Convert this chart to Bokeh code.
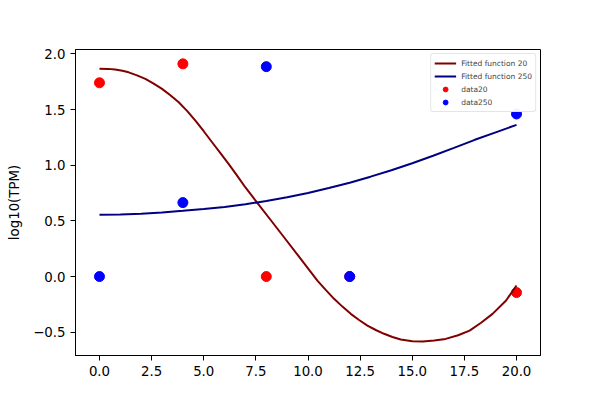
from bokeh.plotting import figure
from bokeh.models import FixedTicker, Legend, LegendItem
from bokeh.embed import file_html
from bokeh.resources import INLINE

# measured points
t_data = [0, 4, 8, 12, 20]
data20 = [1.74, 1.91, 0.0, 0.0, -0.144]
data250 = [0.0, 0.664, 1.885, 0.0, 1.46]

# fitted curves
t_fit20 = [0, 0.4, 0.75, 1.1, 1.4, 1.8, 2.2, 2.6, 3.0, 3.4, 3.8, 4.2, 4.6, 5.0, 5.4,
           5.8, 6.2, 6.6, 7.0, 7.55, 8.2, 8.85, 9.65, 10.45, 10.85, 11.25, 11.65,
           12.05, 12.45, 12.85, 13.25, 13.65, 14.05, 14.45, 15.0, 15.5, 16.05, 16.6,
           17.2, 17.75, 18.3, 18.85, 19.5, 20.0]
fit20 = [1.866, 1.865, 1.86, 1.848, 1.834, 1.807, 1.775, 1.733, 1.685, 1.628, 1.565,
         1.488, 1.40, 1.305, 1.206, 1.108, 1.01, 0.907, 0.80, 0.667, 0.51, 0.353,
         0.159, -0.036, -0.12, -0.20, -0.27, -0.335, -0.39, -0.44, -0.48, -0.514,
         -0.543, -0.566, -0.58, -0.583, -0.575, -0.56, -0.527, -0.485, -0.415,
         -0.335, -0.215, -0.08]
t_fit250 = [0, 1, 2, 3, 4, 5, 6, 7, 8, 9, 10, 11, 12, 13, 14, 15, 16, 17, 18, 19, 20]
fit250 = [0.555, 0.557, 0.563, 0.575, 0.59, 0.606, 0.625, 0.65, 0.678, 0.712, 0.75,
          0.795, 0.843, 0.897, 0.955, 1.018, 1.085, 1.155, 1.228, 1.295, 1.362]

x_ticks = [0, 2.5, 5, 7.5, 10, 12.5, 15, 17.5, 20]
x_tick_labels = ["0.0", "2.5", "5.0", "7.5", "10.0", "12.5", "15.0", "17.5", "20.0"]
y_ticks = [-0.5, 0, 0.5, 1.0, 1.5, 2.0]
y_tick_labels = ["\u22120.5", "0.0", "0.5", "1.0", "1.5", "2.0"]

p = figure(width=584, height=384, x_range=(-1.15, 21.15), y_range=(-0.709, 2.039),
           output_backend="svg", toolbar_location=None,
           min_border_left=75, min_border_right=44, min_border_top=49, min_border_bottom=29)
p.grid.visible = False
p.outline_line_color = "black"
p.outline_line_width = 1

p.xaxis.ticker = FixedTicker(ticks=x_ticks)
p.xaxis.major_label_overrides = dict(zip(x_ticks, x_tick_labels))
p.yaxis.ticker = FixedTicker(ticks=y_ticks)
p.yaxis.major_label_overrides = dict(zip(y_ticks, y_tick_labels))
p.yaxis.axis_label = "log10(TPM)"

for ax in [p.xaxis[0], p.yaxis[0]]:
    ax.axis_line_color = "black"
    ax.major_tick_line_color = "black"
    ax.major_tick_out = 5
    ax.major_tick_in = 0
    ax.minor_tick_line_color = None
    ax.major_label_text_font = "DejaVu Sans"
    ax.major_label_text_font_size = "10pt"
    ax.major_label_text_color = "black"
    ax.axis_label_text_font = "DejaVu Sans"
    ax.axis_label_text_font_size = "10pt"
    ax.axis_label_text_font_style = "normal"
    ax.axis_label_text_color = "black"
    ax.axis_label_standoff = 8

s20 = p.scatter(t_data, data20, size=10, color="#ff0000")
s250 = p.scatter(t_data, data250, size=10, color="#0000ff")
l20 = p.line(t_fit20, fit20, line_width=2, color="#800000")
l250 = p.line(t_fit250, fit250, line_width=2, color="#000080")

legend = Legend(items=[
    LegendItem(label="Fitted function 20", renderers=[l20]),
    LegendItem(label="Fitted function 250", renderers=[l250]),
    LegendItem(label="data20", renderers=[s20]),
    LegendItem(label="data250", renderers=[s250]),
], location="top_right")
legend.margin = 4
legend.padding = 3
legend.spacing = 1
legend.glyph_width = 22
legend.glyph_height = 12
legend.label_height = 12
legend.label_standoff = 5
legend.label_text_font = "DejaVu Sans"
legend.label_text_font_size = "7.5px"
legend.border_line_color = "#cccccc"
legend.border_radius = 3
p.add_layout(legend)

open("out.html", "w").write(file_html(p, INLINE))
